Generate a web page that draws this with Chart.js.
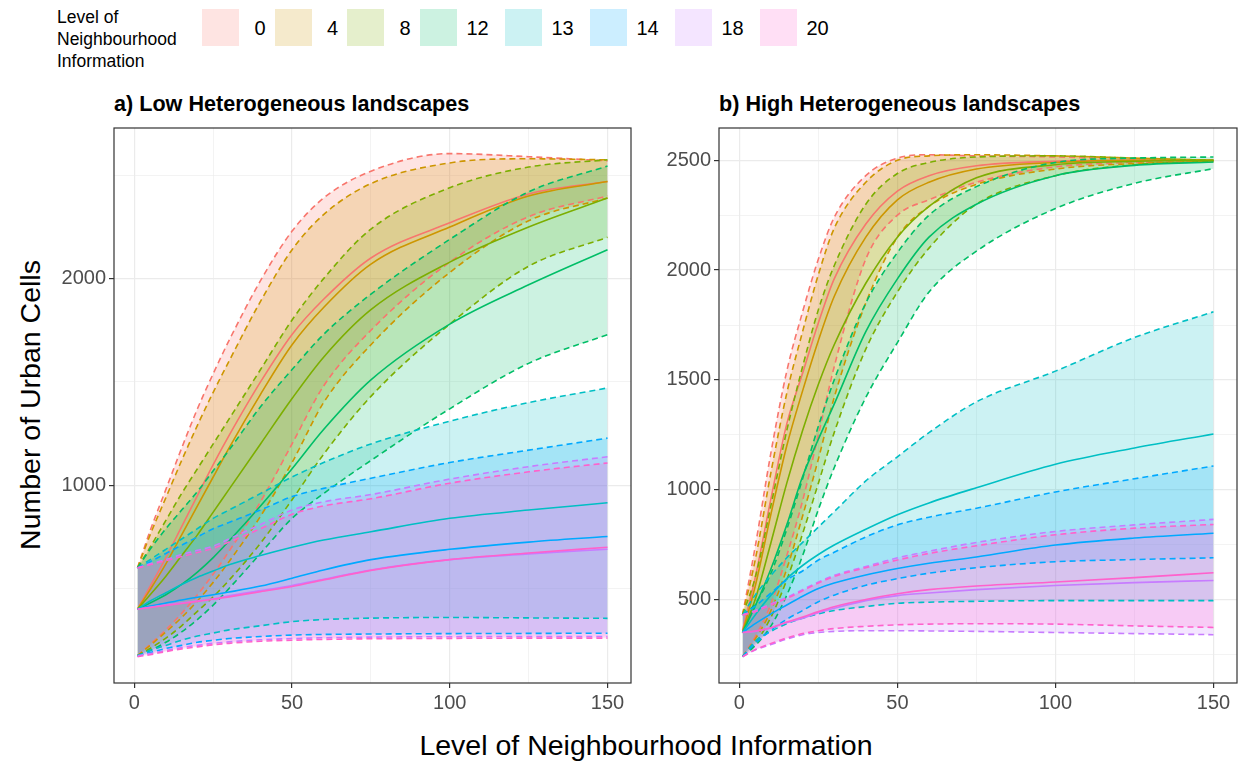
<!DOCTYPE html>
<html>
<head>
<meta charset="utf-8">
<script src="https://cdn.jsdelivr.net/npm/chart.js@4.4.1/dist/chart.umd.min.js"></script>
<style>
  body { margin: 0; width: 1241px; height: 765px; background: #fff; position: relative; overflow: hidden;
         font-family: "Liberation Sans", Arial, sans-serif; color: #000; }
  .abs { position: absolute; }
  #legendTitle { left: 57px; top: 6px; font-size: 17.5px; line-height: 22px; }
  .key { position: absolute; top: 9px; width: 37px; height: 37px; }
  .klab { position: absolute; top: 16px; width: 40px; text-align: center; font-size: 20px; line-height: 24px; }
  .ptitle { top: 93px; font-weight: bold; font-size: 21.6px; line-height: 22px; white-space: nowrap; }
  #ytitle { left: -170px; top: 391px; width: 400px; height: 28px; line-height: 28px; font-size: 28.5px;
            text-align: center; transform: rotate(-90deg); white-space: nowrap; }
  #xtitle { left: 0; top: 731px; width: 1292px; text-align: center; font-size: 28.5px; line-height: 28px; white-space: nowrap; }
  #wrapA { left: 0; top: 90px; }
  #wrapB { left: 640px; top: 90px; }
</style>
</head>
<body>
<div id="legend"></div>
<div class="abs" id="legendTitle">Level of<br>Neighbourhood<br>Information</div>
<div class="abs ptitle" style="left:114px">a) Low Heterogeneous landscapes</div>
<div class="abs ptitle" style="left:719px">b) High Heterogeneous landscapes</div>
<div class="abs" id="ytitle">Number of Urban Cells</div>
<div class="abs" id="xtitle">Level of Neighbourhood Information</div>
<div class="abs" id="wrapA"><canvas id="c1" width="645" height="630"></canvas></div>
<div class="abs" id="wrapB"><canvas id="c2" width="601" height="630"></canvas></div>
<script>
// x positions shared by every curve
var xs = [1, 5, 10, 15, 20, 25, 30, 40, 50, 60, 75, 100, 125, 150];
var levels = ['0', '4', '8', '12', '13', '14', '18', '20'];
var levelColors = ['#F8766D', '#CD9600', '#7CAE00', '#00BE67', '#00BFC4', '#00A9FF', '#C77CFF', '#FF61CC'];

// a) low heterogeneous: one row per level
var lowUpper = [
  [600, 780, 980, 1180, 1370, 1540, 1700, 1990, 2230, 2390, 2520, 2605, 2590, 2570],
  [600, 760, 940, 1120, 1290, 1450, 1600, 1890, 2140, 2310, 2460, 2560, 2580, 2575],
  [600, 700, 830, 960, 1080, 1200, 1320, 1560, 1800, 2000, 2240, 2440, 2540, 2575],
  [600, 690, 790, 880, 970, 1070, 1170, 1380, 1560, 1730, 1925, 2190, 2420, 2545],
  [600, 640, 690, 740, 790, 840, 880, 960, 1040, 1110, 1200, 1310, 1400, 1471],
  [600, 630, 670, 710, 750, 790, 820, 880, 945, 985, 1034, 1110, 1170, 1228],
  [600, 620, 640, 665, 685, 705, 740, 810, 880, 920, 955, 1030, 1090, 1138],
  [600, 615, 635, 655, 675, 695, 725, 790, 860, 900, 935, 1010, 1065, 1108]
];
var lowMean = [
  [400, 510, 650, 800, 950, 1100, 1240, 1500, 1730, 1900, 2100, 2270, 2410, 2470],
  [400, 495, 620, 760, 900, 1040, 1180, 1440, 1680, 1860, 2070, 2250, 2400, 2470],
  [400, 470, 560, 660, 760, 870, 980, 1200, 1420, 1620, 1850, 2080, 2250, 2390],
  [400, 430, 470, 520, 580, 650, 730, 900, 1080, 1270, 1510, 1780, 1970, 2140],
  [400, 440, 480, 520, 555, 585, 615, 660, 700, 735, 775, 840, 880, 915],
  [400, 415, 430, 445, 458, 470, 483, 512, 550, 590, 640, 690, 725, 752],
  [400, 410, 420, 430, 440, 450, 465, 490, 515, 545, 590, 640, 668, 690],
  [400, 408, 418, 428, 438, 448, 460, 485, 510, 542, 588, 640, 672, 700]
];
var lowLower = [
  [175, 230, 300, 380, 470, 570, 680, 920, 1200, 1480, 1750, 2080, 2300, 2400],
  [175, 225, 290, 360, 440, 530, 630, 850, 1110, 1400, 1680, 2030, 2280, 2390],
  [175, 210, 260, 320, 390, 460, 540, 720, 930, 1150, 1430, 1780, 2060, 2200],
  [175, 200, 240, 290, 350, 420, 500, 670, 840, 960, 1120, 1370, 1590, 1729],
  [175, 200, 225, 250, 270, 285, 300, 320, 340, 350, 357, 360, 358, 356],
  [175, 190, 210, 225, 240, 250, 258, 268, 275, 278, 280, 282, 283, 284],
  [175, 185, 200, 215, 225, 235, 242, 252, 258, 262, 265, 267, 268, 268],
  [170, 180, 195, 208, 218, 228, 235, 245, 250, 254, 257, 259, 260, 260]
];

// b) high heterogeneous
var highUpper = [
  [430, 740, 1170, 1540, 1810, 2050, 2240, 2430, 2510, 2525, 2520, 2515, 2505, 2500],
  [430, 680, 1080, 1440, 1720, 1980, 2190, 2400, 2500, 2520, 2525, 2520, 2510, 2500],
  [430, 600, 930, 1270, 1560, 1820, 2020, 2300, 2440, 2490, 2515, 2520, 2510, 2500],
  [430, 480, 620, 820, 1050, 1290, 1500, 1850, 2080, 2250, 2380, 2490, 2510, 2515],
  [430, 520, 610, 690, 760, 830, 900, 1040, 1150, 1260, 1400, 1540, 1693, 1810],
  [430, 470, 530, 590, 630, 680, 715, 785, 840, 875, 916, 990, 1050, 1108],
  [430, 450, 480, 510, 545, 580, 610, 650, 690, 720, 760, 810, 840, 865],
  [430, 445, 475, 505, 540, 575, 605, 645, 680, 710, 745, 795, 825, 842]
];
var highMean = [
  [360, 600, 960, 1300, 1530, 1760, 1960, 2210, 2360, 2430, 2475, 2495, 2500, 2500],
  [350, 560, 890, 1200, 1450, 1680, 1880, 2150, 2320, 2400, 2460, 2490, 2500, 2500],
  [350, 500, 760, 1030, 1270, 1480, 1660, 1940, 2150, 2290, 2420, 2480, 2495, 2500],
  [350, 470, 640, 840, 1060, 1230, 1390, 1720, 1960, 2150, 2300, 2430, 2477, 2492],
  [350, 430, 520, 595, 655, 705, 748, 820, 886, 940, 1009, 1116, 1190, 1254],
  [350, 390, 435, 475, 515, 550, 575, 612, 641, 665, 694, 748, 780, 802],
  [350, 355, 370, 395, 415, 440, 460, 495, 518, 530, 545, 564, 577, 587],
  [350, 357, 372, 398, 420, 445, 467, 500, 526, 545, 562, 580, 600, 622]
];
var highLower = [
  [240, 330, 480, 700, 950, 1250, 1560, 2050, 2250, 2320, 2400, 2470, 2490, 2495],
  [240, 320, 450, 640, 880, 1140, 1420, 1850, 2150, 2290, 2390, 2460, 2485, 2495],
  [240, 300, 420, 590, 800, 1030, 1260, 1640, 1900, 2100, 2300, 2430, 2480, 2495],
  [240, 290, 380, 520, 700, 910, 1100, 1420, 1670, 1900, 2086, 2280, 2395, 2462],
  [240, 310, 355, 390, 415, 435, 450, 468, 483, 488, 492, 495, 495, 495],
  [240, 300, 360, 410, 450, 490, 520, 565, 595, 620, 645, 672, 682, 690],
  [240, 270, 295, 320, 340, 350, 355, 358, 358, 357, 355, 350, 345, 340],
  [240, 272, 300, 325, 345, 358, 368, 378, 385, 388, 390, 388, 380, 373]
];

// tick values
var xMajor = [0, 50, 100, 150];
var xMinor = [25, 75, 125];
var lowYMajor = [1000, 2000];
var lowYMinor = [500, 1500, 2500];
var highYMajor = [500, 1000, 1500, 2000, 2500];
var highYMinor = [250, 750, 1250, 1750, 2250];

function withAlpha(hex, a) {
  var n = parseInt(hex.slice(1), 16);
  return 'rgba(' + (n >> 16) + ',' + ((n >> 8) & 255) + ',' + (n & 255) + ',' + a + ')';
}

// legend row
(function() {
  var box = document.getElementById('legend');
  var left = 202;
  levels.forEach(function(lv, i) {
    var k = document.createElement('div');
    k.className = 'key';
    k.style.left = left + 'px';
    k.style.background = withAlpha(levelColors[i], 0.2);
    box.appendChild(k);
    var t = document.createElement('div');
    t.className = 'klab';
    t.style.left = (left + 38) + 'px';
    t.textContent = lv;
    box.appendChild(t);
    left += lv.length > 1 ? 85 : 72.5;
  });
})();

function buildDatasets(upper, mean, lower) {
  var out = [];
  var pts = function(arr) { return xs.map(function(x, j) { return {x: x, y: arr[j]}; }); };
  levels.forEach(function(lv, i) {
    var c = levelColors[i];
    out.push({ label: lv + ' upper', data: pts(upper[i]), borderColor: c, borderWidth: 1.6,
               borderDash: [6, 4], fill: false });
    out.push({ label: lv + ' lower', data: pts(lower[i]), borderColor: c, borderWidth: 1.6,
               borderDash: [6, 4], fill: '-1', backgroundColor: withAlpha(c, 0.2) });
    out.push({ label: lv, data: pts(mean[i]), borderColor: c, borderWidth: 1.6, fill: false });
  });
  out.forEach(function(d, k) { d.order = 100 - k; });
  return out;
}

var panelBorder = {
  id: 'panelBorder',
  afterDatasetsDraw: function(chart) {
    var a = chart.chartArea, ctx = chart.ctx;
    ctx.save();
    ctx.strokeStyle = '#333333';
    ctx.lineWidth = 1.2;
    ctx.strokeRect(a.left, a.top, a.right - a.left, a.bottom - a.top);
    ctx.restore();
  }
};

function tickSet(major, minor) {
  return function(scale) {
    scale.ticks = major.concat(minor).sort(function(a, b) { return a - b; })
      .map(function(v) { return {value: v}; });
  };
}

function axis(major, minor, min, max, fitFn) {
  return {
    type: 'linear', min: min, max: max,
    afterBuildTicks: tickSet(major, minor),
    afterFit: fitFn,
    border: { display: false },
    grid: {
      color: '#EBEBEB',
      lineWidth: function(c) { return c.tick && major.indexOf(c.tick.value) >= 0 ? 1.2 : 0.6; },
      drawTicks: true, tickLength: 5, tickWidth: 1.2,
      tickColor: function(c) { return c.tick && major.indexOf(c.tick.value) >= 0 ? '#333333' : 'rgba(0,0,0,0)'; }
    },
    ticks: {
      autoSkip: false, maxRotation: 0, padding: 3, color: '#4D4D4D',
      font: { family: 'Liberation Sans', size: 20 },
      callback: function(v) { return major.indexOf(v) >= 0 ? String(v) : ''; }
    }
  };
}

function makePanel(id, upper, mean, lower, yMin, yMax, yMajor, yMinor, yWidth, padRight) {
  new Chart(document.getElementById(id), {
    type: 'line',
    data: { datasets: buildDatasets(upper, mean, lower) },
    options: {
      responsive: false,
      animation: false,
      events: [],
      layout: { padding: { top: 38, right: padRight, left: 0, bottom: 0 } },
      elements: { line: { cubicInterpolationMode: 'monotone' }, point: { radius: 0 } },
      plugins: {
        legend: { display: false },
        tooltip: { enabled: false },
        filler: { drawTime: 'beforeDatasetsDraw' }
      },
      scales: {
        x: axis(xMajor, xMinor, -6.45, 157.45, function(s) { s.height = 37; }),
        y: axis(yMajor, yMinor, yMin, yMax, function(s) { s.width = yWidth; })
      }
    },
    plugins: [panelBorder]
  });
}

makePanel('c1', lowUpper, lowMean, lowLower, 43, 2729, lowYMajor, lowYMinor, 114, 14);
makePanel('c2', highUpper, highMean, highLower, 120, 2647, highYMajor, highYMinor, 79, 4);
</script>
</body>
</html>
